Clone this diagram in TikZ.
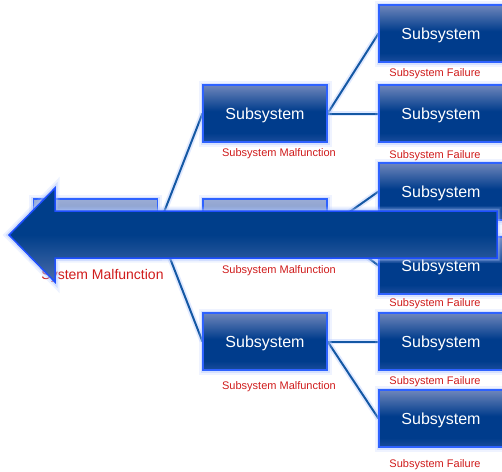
\documentclass[tikz,border=0pt]{standalone}
\usepackage{fontspec}
\setmainfont{Liberation Sans}
\definecolor{boxtop}{HTML}{6F86BB}
\definecolor{boxmid}{HTML}{003C8C}
\definecolor{boxbot}{HTML}{1A4C9C}
\definecolor{fadetop}{HTML}{9AACD5}
\definecolor{fademid}{HTML}{7A92C5}
\definecolor{fadebot}{HTML}{7089BF}
\definecolor{edgeblue}{HTML}{2E62FF}
\definecolor{glowc}{HTML}{A9C2FF}
\definecolor{linec}{HTML}{1458A4}
\definecolor{labred}{HTML}{D01C1C}
\definecolor{arrtop}{HTML}{003E8A}
\definecolor{arrbot}{HTML}{4A6CAA}
\definecolor{arredge}{HTML}{1E4FFF}
\pgfdeclareverticalshading{boxshade}{100bp}{color(0bp)=(boxbot); color(25bp)=(boxbot); color(33bp)=(boxmid); color(52bp)=(boxmid); color(75bp)=(boxtop); color(100bp)=(boxtop)}
\pgfdeclareverticalshading{fadeshade}{100bp}{color(0bp)=(fadebot); color(25bp)=(fadebot); color(50bp)=(fademid); color(75bp)=(fadetop); color(100bp)=(fadetop)}
\pgfdeclareverticalshading{arrshade}{100bp}{color(0bp)=(arrbot); color(25bp)=(arrbot); color(50bp)=(arrtop); color(75bp)=(arrtop); color(100bp)=(arrtop)}
\pgfdeclarelayer{bg}
\pgfsetlayers{bg,main}
\tikzset{
  subbox/.style={rectangle, draw=edgeblue, line width=1.1pt,
    shading=boxshade,
    minimum width=124pt, minimum height=57pt, inner sep=0pt, text depth=0pt,
    text=white, font=\fontsize{16}{16}\selectfont,
    preaction={draw=glowc, line width=9pt, opacity=0.18},
    preaction={draw=glowc, line width=5pt, opacity=0.35}},
  fadebox/.style={subbox, shading=fadeshade},
  conn/.style={draw=linec, line width=2pt,
    preaction={draw=glowc, line width=5.5pt, opacity=0.35}},
  faillab/.style={text=labred, font=\fontsize{11}{11}\selectfont, inner sep=0pt, text depth=0pt},
  syslab/.style={text=labred, font=\fontsize{14}{14}\selectfont, inner sep=0pt, text depth=0pt},
}
\begin{document}
\begin{tikzpicture}[x=1pt, y=-1pt]
  \begin{pgfonlayer}{bg}
    \fill[white] (0,0) rectangle (502,471);
  \end{pgfonlayer}
  \useasboundingbox (0,0) rectangle (502,471);
  % boxes
  \node[fadebox] (sys) at (95.5,227.5) {};
  \node[subbox] (m1) at (265,113.5) {Subsystem};
  \node[fadebox] (m2) at (265,227.5) {};
  \node[subbox] (m3) at (265,341.5) {Subsystem};
  \node[subbox] (r1) at (441,33.5) {Subsystem};
  \node[subbox] (r2) at (441,113.5) {Subsystem};
  \node[subbox] (r3) at (441,191.5) {Subsystem};
  \node[subbox] (r4) at (441,265.5) {Subsystem};
  \node[subbox] (r5) at (441,341.5) {Subsystem};
  \node[subbox] (r6) at (441,418.5) {Subsystem};
  % labels
  \node[syslab] (lsys) at (102.5,274) {System Malfunction};
  \node[faillab] (lm1) at (279,153) {Subsystem Malfunction};
  \node[faillab] (lm2) at (279,270) {Subsystem Malfunction};
  \node[faillab] (lm3) at (279,386) {Subsystem Malfunction};
  \node[faillab] (lr1) at (435,73) {Subsystem Failure};
  \node[faillab] (lr2) at (435,155) {Subsystem Failure};
  \node[faillab] (lr4) at (435,303) {Subsystem Failure};
  \node[faillab] (lr5) at (435,381) {Subsystem Failure};
  \node[faillab] (lr6) at (435,464) {Subsystem Failure};
  % connectors
  \begin{pgfonlayer}{bg}
    \draw[conn] (sys.east) -- (m1.west);
    \draw[conn] (sys.east) -- (m2.west);
    \draw[conn] (sys.east) -- (m3.west);
    \draw[conn] (m1.east) -- (r1.west);
    \draw[conn] (m1.east) -- (r2.west);
    \draw[conn] (m2.east) -- (r3.west);
    \draw[conn] (m2.east) -- (r4.west);
    \draw[conn] (m3.east) -- (r5.west);
    \draw[conn] (m3.east) -- (r6.west);
  \end{pgfonlayer}
  % big arrow
  \path[draw=glowc, line width=9pt, opacity=0.2, line join=miter]
    (9,235) -- (55,188) -- (55,211) -- (497,211) -- (497,258) -- (55,258) -- (55,282) -- cycle;
  \path[draw=glowc, line width=5pt, opacity=0.4, line join=miter]
    (9,235) -- (55,188) -- (55,211) -- (497,211) -- (497,258) -- (55,258) -- (55,282) -- cycle;
  \shade[shading=arrshade, draw=arredge, line width=1.5pt, line join=miter]
    (9,235) -- (55,188) -- (55,211) -- (497,211) -- (497,258) -- (55,258) -- (55,282) -- cycle;
\end{tikzpicture}
\end{document}
